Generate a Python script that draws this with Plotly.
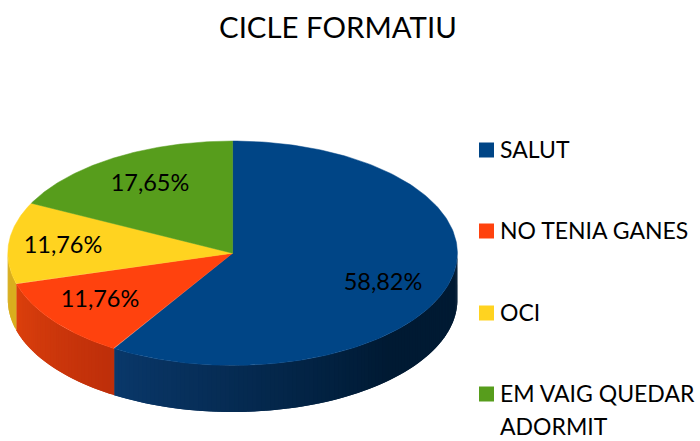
import numpy as np
import plotly.graph_objects as go

# ---- data ----
categories = ["SALUT", "NO TENIA GANES", "OCI", "EM VAIG QUEDAR<br>ADORMIT"]
values = [58.82, 11.76, 11.76, 17.65]
title_text = "CICLE FORMATIU"

# ---- styling ----
top_colors = ["#004586", "#ff420e", "#ffd320", "#579d1c"]
side_from = [(10, 56, 106), (220, 64, 13), (217, 174, 30), (74, 133, 24)]
side_to = [(0, 26, 51), (190, 47, 10), (217, 174, 30), (74, 133, 24)]
label_xy = [(383, 284), (100, 301), (63, 247), (150, 185)]
legend_y = [150, 231, 313, 394]
LINE_GAP = 33
FONT = "Lato"
W, H = 700, 441
CX, CY, RX, RY, DEPTH = 232.6, 253.2, 224.8, 112.2, 46.6

shares = np.array(values) / sum(values) * 2 * np.pi
ends = np.cumsum(shares)
starts = ends - shares


def ex(t):
    return CX + RX * np.sin(t)


def ey(t, d=0.0):
    return CY - RY * np.cos(t) + d


fig = go.Figure()
common = dict(mode="lines", fill="toself", hoverinfo="skip", showlegend=False)

# side wall: visible for angles between pi/2 and 3pi/2 (clockwise from the top)
for i, (a, b) in enumerate(zip(starts, ends)):
    lo, hi = max(a, np.pi / 2), min(b, 3 * np.pi / 2)
    if hi <= lo:
        continue
    n = max(4, int((hi - lo) * 50))
    edges = np.linspace(lo, hi, n + 1)
    for k in range(n):
        f = k / max(n - 1, 1)
        if i == 0:
            # the blue wall darkens from its left end and stays dark on the right
            f = 1 - min(1.0, (1 - f) * 1.6)
            rgb = [side_to[0][j] + (side_from[0][j] - side_to[0][j]) * f for j in range(3)]
        else:
            g = 1 - f
            rgb = [side_from[i][j] + (side_to[i][j] - side_from[i][j]) * g for j in range(3)]
        col = "rgb(%d,%d,%d)" % tuple(rgb)
        # each strip overlaps the next one so no seam shows between them
        t = np.linspace(edges[k], edges[min(k + 2, n)], 8)
        xs = np.concatenate([ex(t), ex(t[::-1])])
        ys = np.concatenate([ey(t), ey(t[::-1], DEPTH)])
        fig.add_trace(go.Scatter(x=xs, y=ys, line=dict(color=col, width=0), fillcolor=col, **common))

# top face
for i, (a, b) in enumerate(zip(starts, ends)):
    t = np.linspace(a, b, 200)
    xs = np.concatenate([[CX], ex(t), [CX]])
    ys = np.concatenate([[CY], ey(t), [CY]])
    fig.add_trace(go.Scatter(x=xs, y=ys, line=dict(color=top_colors[i], width=0.5),
                             fillcolor=top_colors[i], **common))

# percentage labels
fig.add_trace(go.Scatter(
    x=[p[0] for p in label_xy], y=[p[1] for p in label_xy], mode="text",
    text=[f"{v:.2f}%".replace(".", ",") for v in values],
    textposition="middle center", textfont=dict(family=FONT, size=23.5, color="#000000"),
    hoverinfo="skip", showlegend=False))

# legend keys
fig.add_trace(go.Scatter(
    x=[486.5] * len(categories), y=legend_y, mode="markers",
    marker=dict(symbol="square", size=15, color=top_colors, line=dict(width=0)),
    hoverinfo="skip", showlegend=False))

for name, y in zip(categories, legend_y):
    for j, line in enumerate(name.split("<br>")):
        fig.add_annotation(x=498, y=y - 1 + j * LINE_GAP, text=line, xref="x", yref="y",
                           xanchor="left", yanchor="middle", align="left", showarrow=False,
                           font=dict(family=FONT, size=23, color="#000000"))

fig.add_annotation(x=338, y=26, text=title_text, xref="x", yref="y", showarrow=False,
                   xanchor="center", yanchor="middle",
                   font=dict(family=FONT, size=29.4, color="#000000"))

fig.update_layout(
    width=W, height=H, margin=dict(l=0, r=0, t=0, b=0),
    paper_bgcolor="white", plot_bgcolor="white", showlegend=False,
    xaxis=dict(range=[0, W], visible=False, fixedrange=True),
    yaxis=dict(range=[H, 0], visible=False, fixedrange=True),
)
fig.write_html("out.html", config={"displayModeBar": False},
               post_script="document.body.style.margin='0';document.body.style.overflow='hidden';")
